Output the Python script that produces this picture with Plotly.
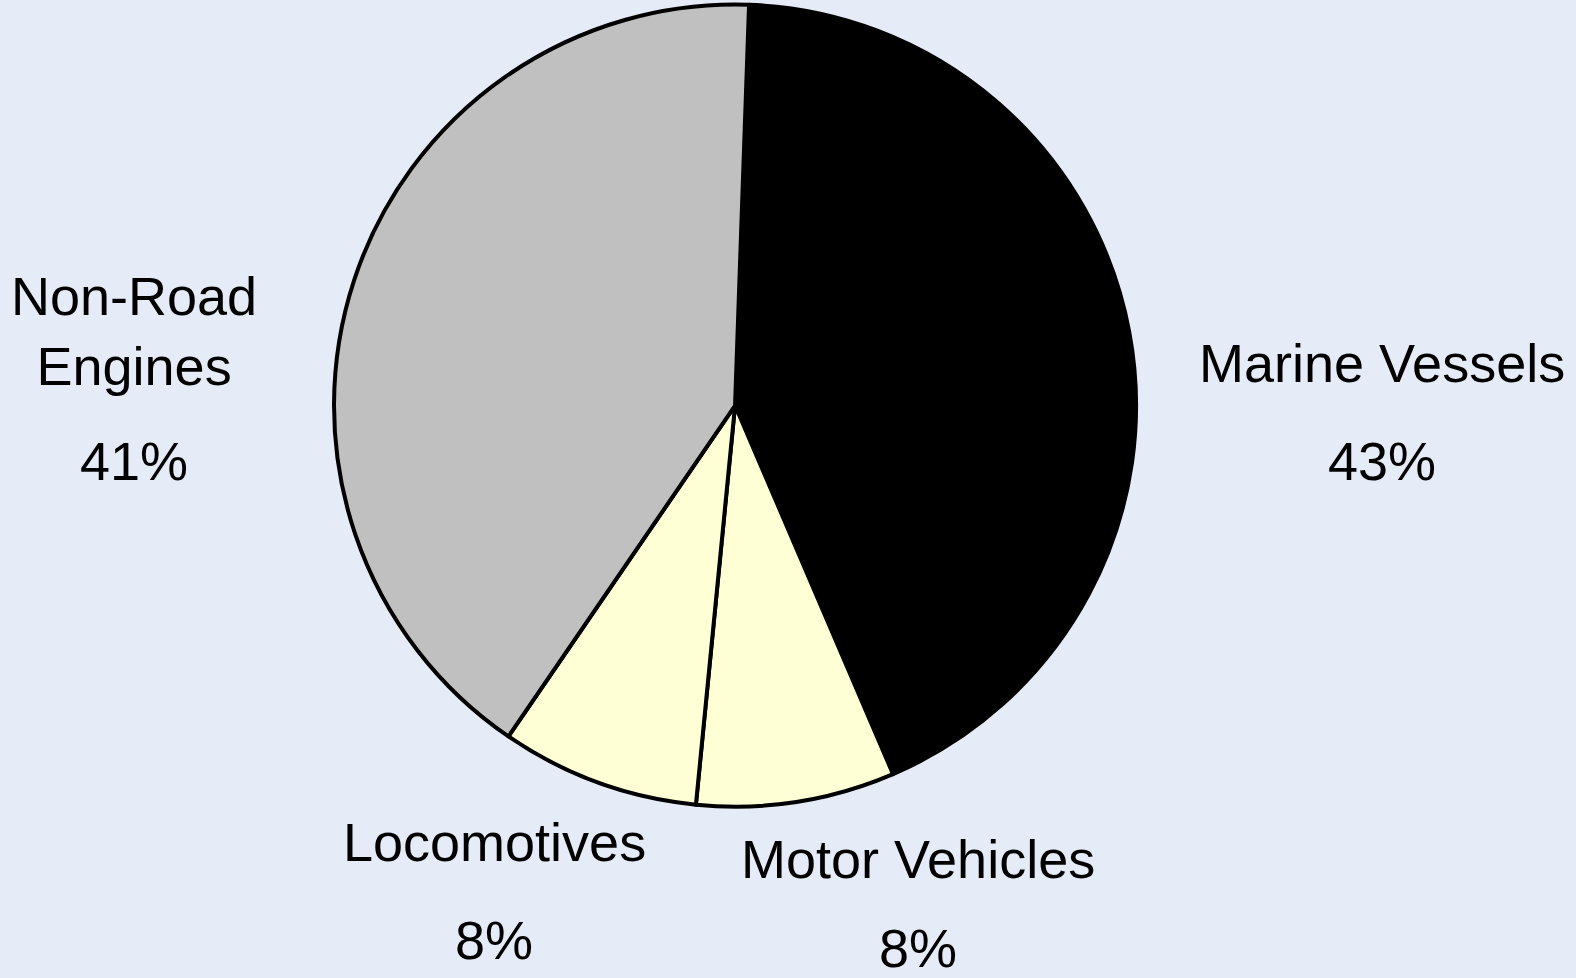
import plotly.graph_objects as go

categories = ["Marine Vessels", "Motor Vehicles", "Locomotives", "Non-Road Engines"]
values = [43, 8, 8, 41]
colors = ["#000000", "#FFFFD5", "#FFFFD5", "#BFC0BF"]
label_text = ["Marine Vessels", "Motor Vehicles", "Locomotives", "Non-Road<br>Engines"]

W, H = 1576, 978
# label anchor positions in pixels (name centre, percent centre)
label_pos = {
    "Marine Vessels": (1382, 363, 461),
    "Motor Vehicles": (918, 859, 948),
    "Locomotives": (494, 842, 940),
    "Non-Road Engines": (134, 331, 461),
}

fig = go.Figure(go.Pie(
    labels=categories,
    values=values,
    sort=False,
    direction="clockwise",
    rotation=2,
    marker=dict(colors=colors, line=dict(color="#000000", width=4)),
    textinfo="none",
    hoverinfo="label+percent",
    showlegend=False,
    domain=dict(x=[0.1664, 0.7664], y=[0.1753, 0.9954]),
))

total = sum(values)
FONT = dict(family="Liberation Sans, Arial", size=54, color="#000000")
annotations = []
for cat, txt, v in zip(categories, label_text, values):
    px, py_name, py_pct = label_pos[cat]
    annotations.append(dict(
        text=txt, x=px / W, y=1 - py_name / H, xref="paper", yref="paper",
        xanchor="center", yanchor="middle", showarrow=False, align="center",
        font=FONT,
    ))
    annotations.append(dict(
        text=f"{round(100 * v / total)}%", x=px / W, y=1 - py_pct / H,
        xref="paper", yref="paper", xanchor="center", yanchor="middle",
        showarrow=False, font=FONT,
    ))

fig.update_layout(
    width=W, height=H,
    margin=dict(l=0, r=0, t=0, b=0),
    paper_bgcolor="#E5EBF7",
    plot_bgcolor="#E5EBF7",
    annotations=annotations,
)

fig.write_html(
    "out.html",
    config={"displayModeBar": False},
    post_script="document.body.style.margin='0';document.body.style.padding='0';"
                "document.body.style.background='#E5EBF7';",
)
